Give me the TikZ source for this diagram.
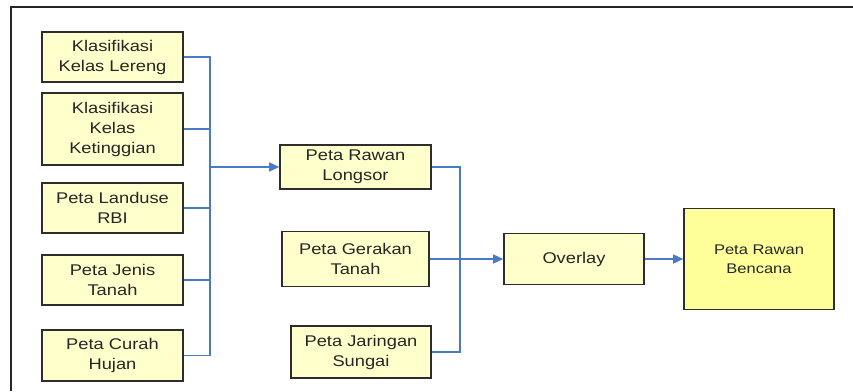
\documentclass[tikz,border=0pt]{standalone}
\usepackage{fontspec}
\setmainfont{Liberation Sans}[FakeStretch=1.18]
\usetikzlibrary{arrows.meta}
\definecolor{linkblue}{RGB}{72,122,200}
\definecolor{boxfill}{RGB}{255,255,204}
\definecolor{endfill}{RGB}{255,255,153}
\definecolor{boxline}{RGB}{45,45,45}
\tikzset{
  mapbox/.style={draw=boxline,line width=1.6pt,fill=boxfill,align=center,inner sep=0pt,
    font=\fontsize{15.5}{20}\selectfont,text=black!85},
  link/.style={linkblue,line width=1.4pt},
  flow/.style={link,-{Triangle[length=10pt,width=9pt]}}
}
\begin{document}
\begin{tikzpicture}[x=1pt,y=-1pt]
  \useasboundingbox (0,0) rectangle (853,391);
  % Outer frame
  \draw[line width=2pt,black!85] (853,7) -- (11,7) -- (11,391);
  % Input maps
  \node[mapbox,minimum width=141pt,minimum height=50pt] (lereng) at (112.5,57) {Klasifikasi\\Kelas Lereng};
  \node[mapbox,minimum width=141pt,minimum height=72pt] (tinggi) at (112.5,129) {Klasifikasi\\Kelas\\Ketinggian};
  \node[mapbox,minimum width=141pt,minimum height=50pt] (landuse) at (112.5,208) {Peta Landuse\\RBI};
  \node[mapbox,minimum width=141pt,minimum height=50pt] (tanah) at (112.5,280) {Peta Jenis\\Tanah};
  \node[mapbox,minimum width=141pt,minimum height=51pt] (hujan) at (112.5,355.5) {Peta Curah\\Hujan};
  % Middle maps
  \node[mapbox,minimum width=151pt,minimum height=44pt] (longsor) at (355.5,167) {Peta Rawan\\Longsor};
  \node[mapbox,minimum width=147pt,minimum height=55pt] (gerakan) at (355.5,259) {Peta Gerakan\\Tanah};
  \node[mapbox,minimum width=140pt,minimum height=52pt] (sungai) at (361,352) {Peta Jaringan\\Sungai};
  % Result
  \node[mapbox,minimum width=140pt,minimum height=51pt] (overlay) at (574,259) {Overlay};
  \node[mapbox,fill=endfill,minimum width=150pt,minimum height=101pt,
    font=\fontsize{14}{19}\selectfont] (bencana) at (759,259) {Peta Rawan\\Bencana};
  % Connectors
  \coordinate (busa) at (210,167);
  \coordinate (busb) at (460,259);
  \foreach \m in {lereng,tinggi,landuse,tanah,hujan}
    \draw[link] (\m.east) -| (busa);
  \draw[flow] (busa) -- (longsor.west);
  \draw[link] (longsor.east) -| (busb);
  \draw[link] (sungai.east) -| (busb);
  \draw[flow] (gerakan.east) -- (overlay.west);
  \draw[flow] (overlay.east) -- (bencana.west);
\end{tikzpicture}
\end{document}
